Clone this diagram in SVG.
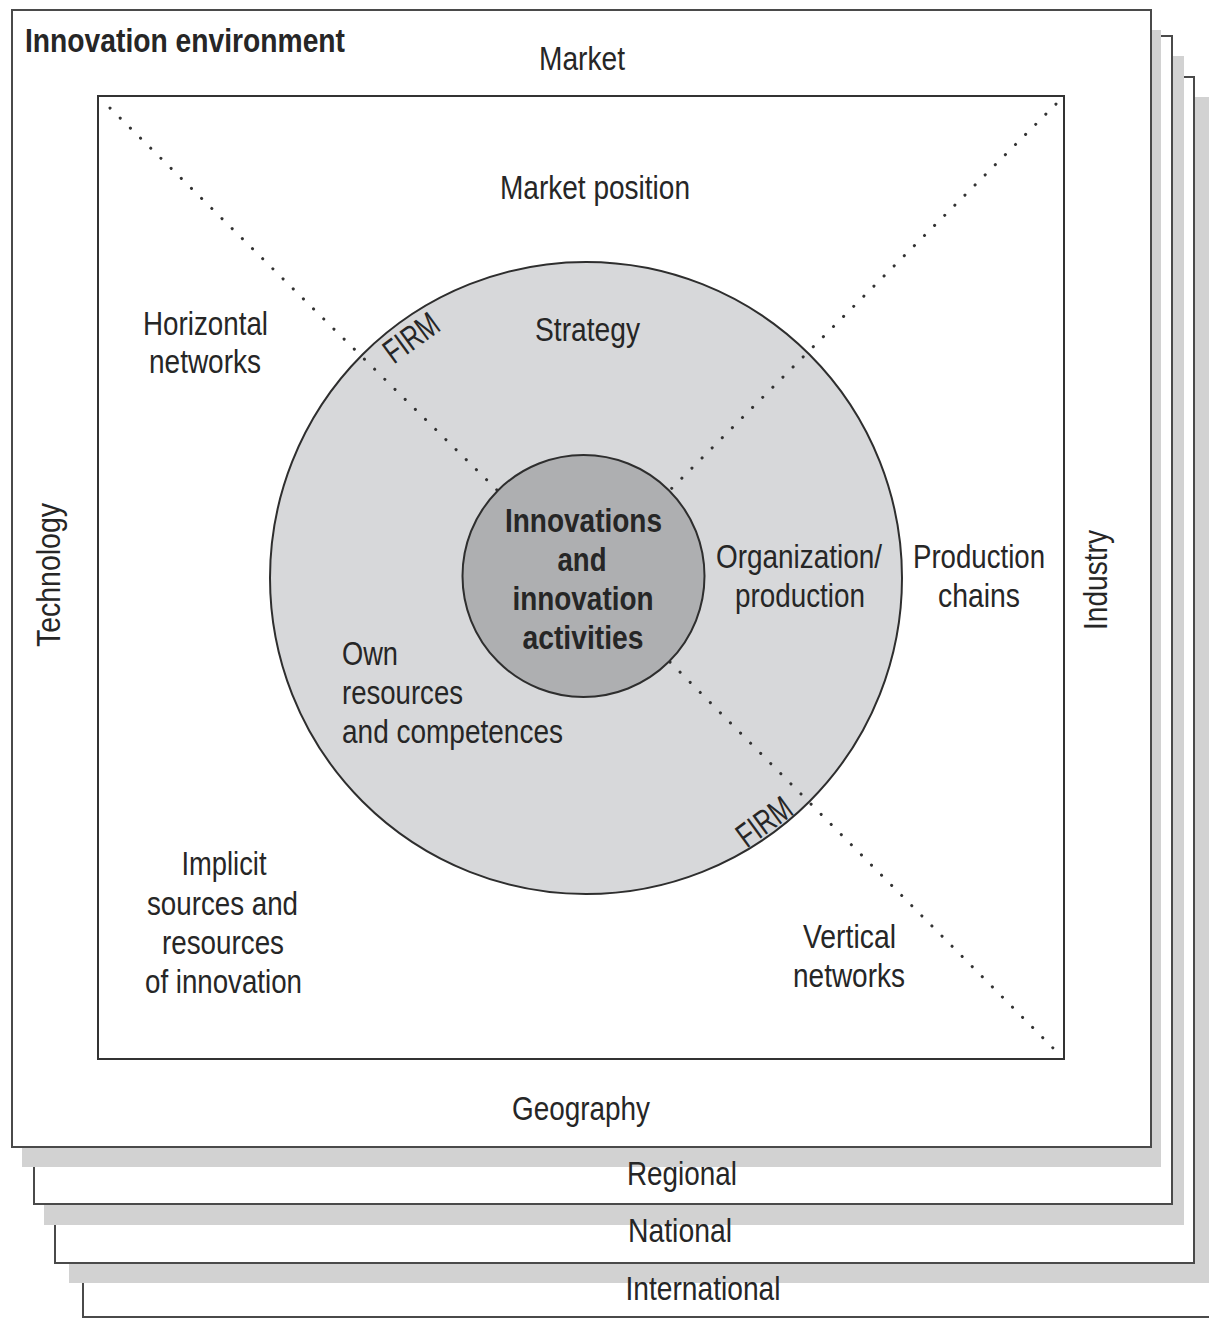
<svg xmlns="http://www.w3.org/2000/svg" width="1209" height="1318" viewBox="0 0 1209 1318">
<style>
.page{fill:#ffffff;stroke:#4a4a4a;stroke-width:2}
.shadow{fill:#d2d2d2;stroke:none}
.t{font-family:"Liberation Sans",Arial,Helvetica,sans-serif;font-size:34px;fill:#262626}
.b{font-weight:bold}
.dots{stroke:#333;stroke-width:3;stroke-linecap:round;stroke-dasharray:0.1 14.2;fill:none}
</style>
<rect width="1209" height="1318" fill="#ffffff"/>
<g id="pages">
  <rect class="page" x="83" y="120" width="1200" height="1197" stroke="#888"/>
  <rect class="shadow" x="69" y="97" width="1145" height="1186"/>
  <rect class="page" x="55" y="77" width="1139" height="1186"/>
  <rect class="shadow" x="44" y="56" width="1140" height="1169"/>
  <rect class="page" x="34" y="36" width="1138" height="1168"/>
  <rect class="shadow" x="22" y="30" width="1139" height="1137"/>
  <rect class="page" x="12" y="10" width="1139" height="1137"/>
</g>
<g id="layer-labels">
  <text class="t" x="682" y="1185" text-anchor="middle" textLength="110" lengthAdjust="spacingAndGlyphs">Regional</text>
  <text class="t" x="680" y="1242" text-anchor="middle" textLength="104" lengthAdjust="spacingAndGlyphs">National</text>
  <text class="t" x="703" y="1300" text-anchor="middle" textLength="155" lengthAdjust="spacingAndGlyphs">International</text>
</g>
<g id="environment">
  <text class="t b" x="25" y="52" font-size="32" textLength="320" lengthAdjust="spacingAndGlyphs">Innovation environment</text>
  <text class="t" x="582" y="70" text-anchor="middle" textLength="86" lengthAdjust="spacingAndGlyphs">Market</text>
  <text class="t" x="581" y="1120" text-anchor="middle" textLength="138" lengthAdjust="spacingAndGlyphs">Geography</text>
  <text class="t" transform="translate(60,575) rotate(-90)" x="0" y="0" text-anchor="middle" textLength="144" lengthAdjust="spacingAndGlyphs">Technology</text>
  <text class="t" transform="translate(1107,580) rotate(-90)" x="0" y="0" text-anchor="middle" textLength="100" lengthAdjust="spacingAndGlyphs">Industry</text>
</g>
<g id="inner-square">
  <rect x="98" y="96" width="966" height="963" fill="#ffffff" stroke="#333" stroke-width="2"/>
</g>
<g id="firm">
  <circle cx="586" cy="578" r="316" fill="#d7d8da" stroke="#2e2e2e" stroke-width="2"/>
</g>
<g id="connectors">
  <line class="dots" x1="110" y1="108" x2="497" y2="490"/>
  <line class="dots" x1="1056" y1="104" x2="670" y2="490"/>
  <line class="dots" x1="670" y1="662" x2="1058" y2="1053"/>
</g>
<g id="core">
  <circle cx="583.5" cy="576" r="121" fill="#aeafb1" stroke="#2e2e2e" stroke-width="2"/>
  <text class="t b" x="583.5" y="532" font-size="35" text-anchor="middle" textLength="157" lengthAdjust="spacingAndGlyphs">Innovations</text>
  <text class="t b" x="582" y="571" font-size="35" text-anchor="middle" textLength="49" lengthAdjust="spacingAndGlyphs">and</text>
  <text class="t b" x="583" y="610" font-size="35" text-anchor="middle" textLength="141" lengthAdjust="spacingAndGlyphs">innovation</text>
  <text class="t b" x="583" y="649" font-size="35" text-anchor="middle" textLength="121" lengthAdjust="spacingAndGlyphs">activities</text>
</g>
<g id="firm-labels">
  <text class="t" font-size="27" transform="translate(418,347) rotate(-36)" x="0" y="0" text-anchor="middle" textLength="60" lengthAdjust="spacingAndGlyphs">FIRM</text>
  <text class="t" font-size="27" transform="translate(771,831) rotate(-36)" x="0" y="0" text-anchor="middle" textLength="60" lengthAdjust="spacingAndGlyphs">FIRM</text>
  <text class="t" x="587.5" y="341" text-anchor="middle" textLength="105" lengthAdjust="spacingAndGlyphs">Strategy</text>
  <text class="t" x="799" y="568" text-anchor="middle" textLength="166" lengthAdjust="spacingAndGlyphs">Organization/</text>
  <text class="t" x="800" y="607" text-anchor="middle" textLength="130" lengthAdjust="spacingAndGlyphs">production</text>
  <text class="t" x="342" y="665" textLength="56" lengthAdjust="spacingAndGlyphs">Own</text>
  <text class="t" x="342" y="704" textLength="121" lengthAdjust="spacingAndGlyphs">resources</text>
  <text class="t" x="342" y="743" textLength="221" lengthAdjust="spacingAndGlyphs">and competences</text>
</g>
<g id="context">
  <text class="t" x="595" y="199" text-anchor="middle" textLength="190" lengthAdjust="spacingAndGlyphs">Market position</text>
  <text class="t" x="205.5" y="335" text-anchor="middle" textLength="125" lengthAdjust="spacingAndGlyphs">Horizontal</text>
  <text class="t" x="205" y="373" text-anchor="middle" textLength="112" lengthAdjust="spacingAndGlyphs">networks</text>
  <text class="t" x="979" y="568" text-anchor="middle" textLength="132" lengthAdjust="spacingAndGlyphs">Production</text>
  <text class="t" x="979" y="607" text-anchor="middle" textLength="82" lengthAdjust="spacingAndGlyphs">chains</text>
  <text class="t" x="224" y="875" text-anchor="middle" textLength="85" lengthAdjust="spacingAndGlyphs">Implicit</text>
  <text class="t" x="222.5" y="915" text-anchor="middle" textLength="151" lengthAdjust="spacingAndGlyphs">sources and</text>
  <text class="t" x="223" y="954" text-anchor="middle" textLength="122" lengthAdjust="spacingAndGlyphs">resources</text>
  <text class="t" x="223.5" y="993" text-anchor="middle" textLength="157" lengthAdjust="spacingAndGlyphs">of innovation</text>
  <text class="t" x="849.5" y="948" text-anchor="middle" textLength="93" lengthAdjust="spacingAndGlyphs">Vertical</text>
  <text class="t" x="849" y="987" text-anchor="middle" textLength="112" lengthAdjust="spacingAndGlyphs">networks</text>
</g>
</svg>
